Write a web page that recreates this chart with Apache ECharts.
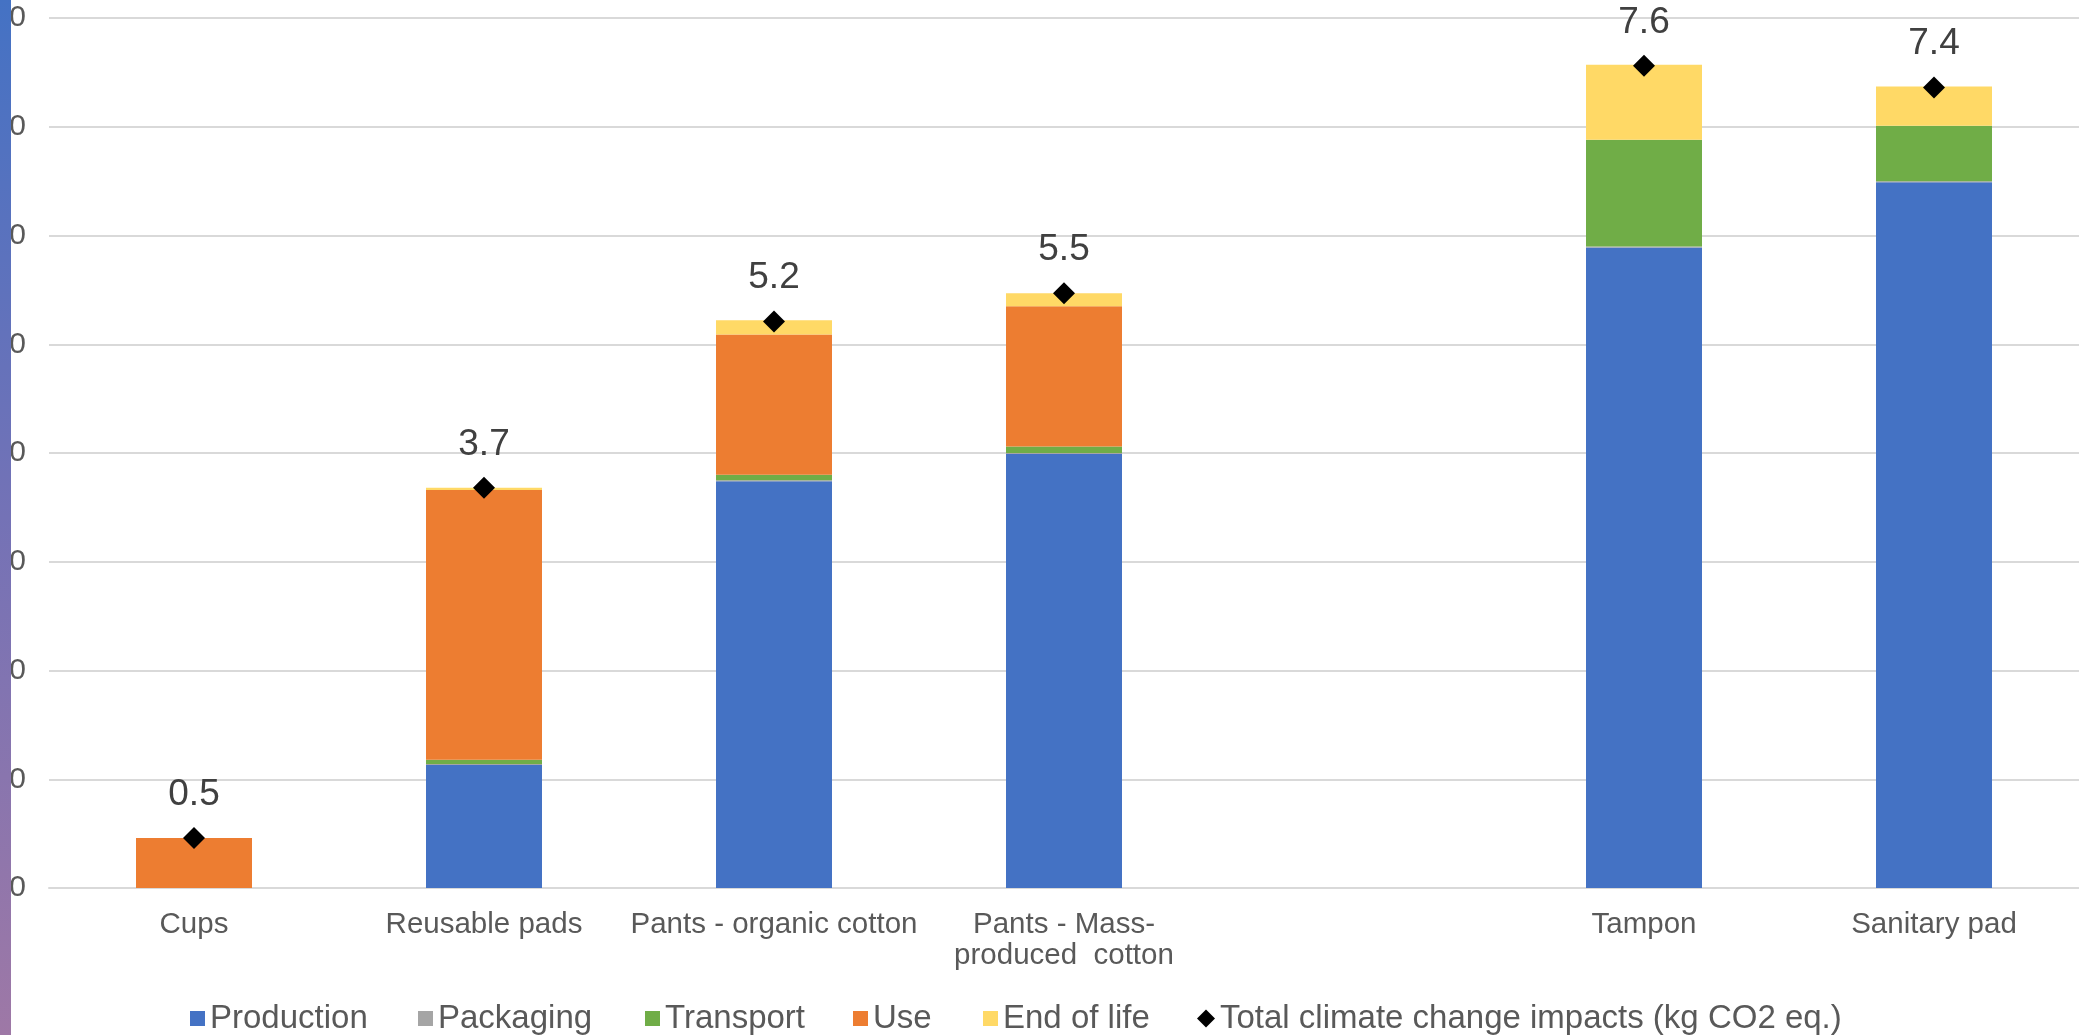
<!DOCTYPE html>
<html>
<head>
<meta charset="utf-8">
<script src="https://cdn.jsdelivr.net/npm/echarts@6/dist/echarts.min.js"></script>
<style>
html,body{margin:0;padding:0;background:#fff;}
#chart{width:2079px;height:1035px;}
</style>
</head>
<body>
<div id="chart"></div>
<script>
const categories = ['Cups', 'Reusable pads', 'Pants - organic cotton', 'Pants - Mass-\nproduced  cotton', '', 'Tampon', 'Sanitary pad'];
const production = [0, 1.13, 3.74, 3.99, null, 5.89, 6.49];
const packaging  = [0, 0.01, 0.01, 0.01, null, 0.01, 0.01];
const transport  = [0, 0.04, 0.05, 0.06, null, 0.98, 0.51];
const useStage   = [0.46, 2.48, 1.29, 1.29, null, 0, 0];
const endOfLife  = [0, 0.02, 0.13, 0.12, null, 0.69, 0.36];
const totals     = [0.46, 3.68, 5.21, 5.47, null, 7.56, 7.36];
const yTicks = { min: 0, max: 8, interval: 1 };
const totalName = 'Total climate change impacts (kg CO2 eq.)';

const FONT = '"Liberation Sans", Arial, sans-serif';
const chart = echarts.init(document.getElementById('chart'));

function barSeries(name, data, color) {
  return {
    name: name, type: 'bar', stack: 'total', data: data,
    barWidth: '40%', itemStyle: { color: color }, z: 2
  };
}

const legendDefs = [
  { name: 'Production', left: 190, icon: 'rect' },
  { name: 'Packaging', left: 418, icon: 'rect' },
  { name: 'Transport', left: 645, icon: 'rect' },
  { name: 'Use', left: 853, icon: 'rect' },
  { name: 'End of life', left: 983, icon: 'rect' },
  { name: totalName, left: 1197, icon: 'diamond' }
];

chart.setOption({
  backgroundColor: '#ffffff',
  animation: false,
  grid: { left: 49, right: 0, top: 18, bottom: 147, containLabel: false, outerBoundsMode: 'none' },
  legend: legendDefs.map(d => ({
    data: [{ name: d.name, icon: d.icon }],
    left: d.left, top: 1002, padding: 0,
    itemWidth: d.icon === 'diamond' ? 18 : 15, itemHeight: d.icon === 'diamond' ? 18 : 15,
    itemGap: 0,
    textStyle: { fontFamily: FONT, fontSize: 33, color: '#595959' }
  })),
  xAxis: {
    type: 'category', data: categories,
    axisLine: { lineStyle: { color: '#D9D9D9', width: 2 } },
    axisTick: { show: false },
    axisLabel: { interval: 0, margin: 21, fontFamily: FONT, fontSize: 29.5, color: '#595959', lineHeight: 31 }
  },
  yAxis: {
    type: 'value', min: yTicks.min, max: yTicks.max, interval: yTicks.interval,
    axisLine: { show: false }, axisTick: { show: false },
    splitLine: { lineStyle: { color: '#D9D9D9', width: 2 } },
    axisLabel: { margin: 23, fontFamily: FONT, fontSize: 30, color: '#595959',
      formatter: v => v.toFixed(1) }
  },
  series: [
    barSeries('Production', production, '#4472C4'),
    barSeries('Packaging', packaging, '#A5A5A5'),
    barSeries('Transport', transport, '#70AD47'),
    barSeries('Use', useStage, '#ED7D31'),
    barSeries('End of life', endOfLife, '#FFD966'),
    {
      name: totalName, type: 'scatter', data: totals,
      symbol: 'diamond', symbolSize: 22, itemStyle: { color: '#000000', opacity: 1 }, z: 5,
      label: { show: true, position: 'top', distance: 14, fontFamily: FONT, fontSize: 37, color: '#404040',
        formatter: p => p.value.toFixed(1) }
    }
  ],
  graphic: [{
    type: 'rect', left: 0, top: 0, z: 100,
    shape: { x: 0, y: 0, width: 11, height: 1035 },
    style: { fill: new echarts.graphic.LinearGradient(0, 0, 0, 1, [
      { offset: 0, color: '#4472C4' }, { offset: 0.5, color: '#7472B6' }, { offset: 1, color: '#9E78A6' }
    ]) }
  }]
});
</script>
</body>
</html>
